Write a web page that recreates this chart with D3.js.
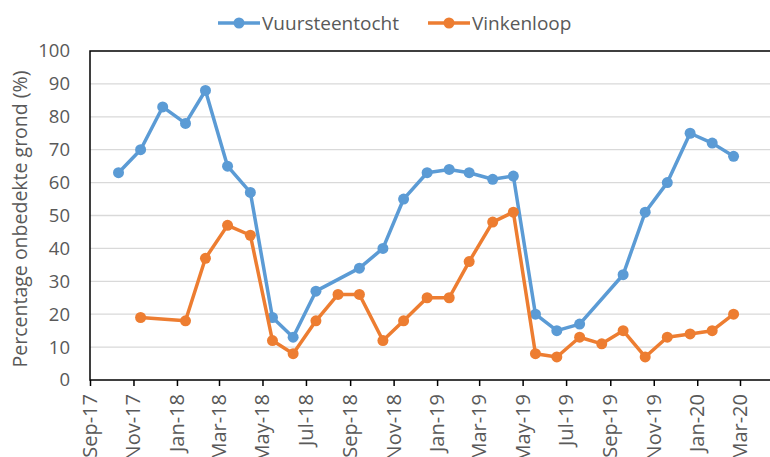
<!DOCTYPE html>
<html><head><meta charset="utf-8">
<script src="https://cdn.jsdelivr.net/npm/d3@7"></script>
<style>body{margin:0;background:#fff;} svg{display:block;}</style>
</head><body>
<svg id="c" width="770" height="457"></svg>
<script>
const dates = ["2017-10-11","2017-11-11","2017-12-12","2018-01-13","2018-02-10","2018-03-13","2018-04-14","2018-05-15","2018-06-13","2018-07-15","2018-08-15","2018-09-14","2018-10-17","2018-11-15","2018-12-18","2019-01-18","2019-02-15","2019-03-20","2019-04-18","2019-05-19","2019-06-18","2019-07-20","2019-08-20","2019-09-19","2019-10-20","2019-11-20","2019-12-22","2020-01-22","2020-02-21"];
const vuursteentocht = [63,70,83,78,88,65,57,19,13,27,null,34,40,55,63,64,63,61,62,20,15,17,null,32,51,60,75,72,68];
const vinkenloop = [null,19,null,18,37,47,44,12,8,18,26,26,12,18,25,25,36,48,51,8,7,13,11,15,7,13,14,15,20];
const seriesNames = ["Vuursteentocht","Vinkenloop"];
const colors = ["#5b9bd5","#ed7d31"];
const yTicks = [0,10,20,30,40,50,60,70,80,90,100];
const xTickLabels = ["Sep-17","Nov-17","Jan-18","Mar-18","May-18","Jul-18","Sep-18","Nov-18","Jan-19","Mar-19","May-19","Jul-19","Sep-19","Nov-19","Jan-20","Mar-20"];

const parse = d3.timeParse("%Y-%m-%d");
const tickDates = xTickLabels.map(s => d3.timeParse("%b-%y")(s));
const svg = d3.select("#c");
const font = "'Open Sans', sans-serif";
const textColor = "#595959";

const x0 = 90, x1 = 740;
const x = d3.scaleTime().domain([parse("2017-09-01"), parse("2020-03-01")]).range([x0, x1]);
const y = d3.scaleLinear().domain([0,100]).range([380, 51]);
const right = 800;

// gridlines
svg.append("g").selectAll("line").data(yTicks.filter(t => t>0 && t<100)).join("line")
  .attr("x1", x0).attr("x2", right).attr("y1", d=>y(d)).attr("y2", d=>y(d))
  .attr("stroke", "#d9d9d9").attr("stroke-width", 1.3);

// frame
svg.append("rect").attr("x", x0).attr("y", y(100)).attr("width", right - x0).attr("height", y(0)-y(100))
  .attr("fill","none").attr("stroke","#000").attr("stroke-width",1.5);

// y axis labels
svg.append("g").selectAll("text").data(yTicks).join("text")
  .attr("x", 70).attr("y", d=>y(d)).attr("dy","0.35em").attr("text-anchor","end")
  .attr("font-family", font).attr("font-size", 18.5).attr("fill", textColor).text(d=>d);

// x axis
const xAxis = d3.axisBottom(x).tickValues(tickDates).tickSize(6).tickFormat("");
const gx = svg.append("g").attr("transform", `translate(0,${y(0)})`).call(xAxis);
gx.select(".domain").remove();
gx.selectAll("line").attr("stroke","#000").attr("stroke-width",1.5);
svg.append("g").selectAll("text").data(xTickLabels).join("text")
  .attr("transform", (d,i) => `translate(${x(tickDates[i])},394) rotate(-90)`)
  .attr("dy","0.35em").attr("text-anchor","end")
  .attr("font-family", font).attr("font-size", 20).attr("fill", textColor).text(d=>d);

// y axis title
svg.append("text").attr("transform", `translate(20,219) rotate(-90)`)
  .attr("dy","0.35em").attr("text-anchor","middle")
  .attr("font-family", font).attr("font-size", 19.5).attr("fill", textColor)
  .text("Percentage onbedekte grond (%)");

// series
const allSeries = [vuursteentocht, vinkenloop];
const line = d3.line().x(d=>x(d.date)).y(d=>y(d.v));
allSeries.forEach((vals, si) => {
  const pts = dates.map((d,i) => ({date: parse(d), v: vals[i]})).filter(p => p.v != null);
  const g = svg.append("g");
  g.append("path").datum(pts).attr("d", line).attr("fill","none")
    .attr("stroke", colors[si]).attr("stroke-width", 3.5).attr("stroke-linejoin","round");
  g.selectAll("circle").data(pts).join("circle")
    .attr("cx", d=>x(d.date)).attr("cy", d=>y(d.v)).attr("r", 5.5).attr("fill", colors[si]);
});

// legend
const legendX = [218, 428];
seriesNames.forEach((n, i) => {
  const g = svg.append("g").attr("transform", `translate(${legendX[i]},23)`);
  g.append("line").attr("x1",0).attr("x2",42).attr("stroke",colors[i]).attr("stroke-width",3.5);
  g.append("circle").attr("cx",21).attr("r",5.5).attr("fill",colors[i]);
  g.append("text").attr("x",44).attr("dy","0.35em").attr("font-family",font).attr("font-size",19)
    .attr("fill",textColor).text(n);
});
</script>
</body></html>
